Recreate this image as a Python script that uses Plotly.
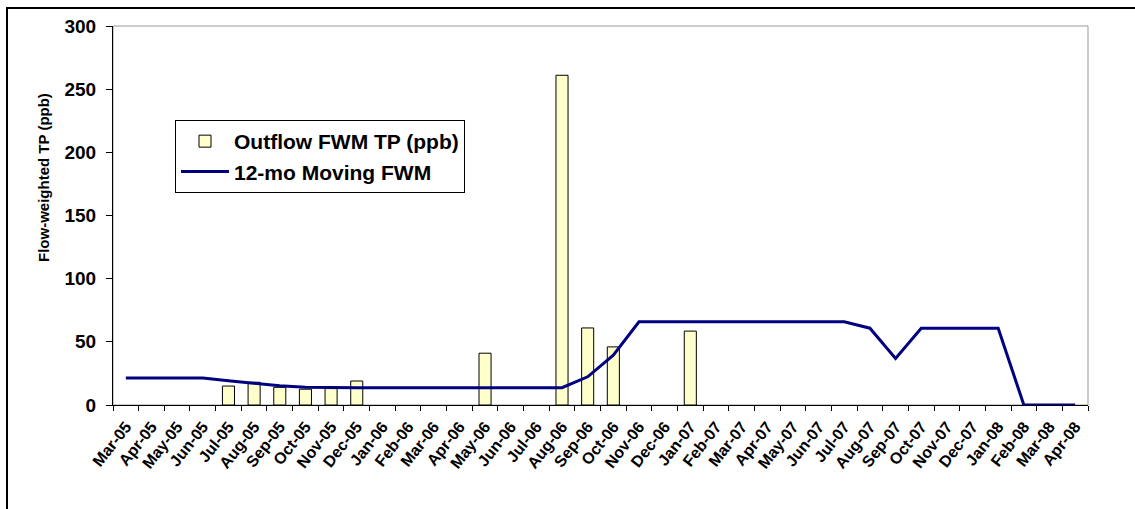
import plotly.graph_objects as go

months = ["Mar-05", "Apr-05", "May-05", "Jun-05", "Jul-05", "Aug-05", "Sep-05", "Oct-05",
          "Nov-05", "Dec-05", "Jan-06", "Feb-06", "Mar-06", "Apr-06", "May-06", "Jun-06",
          "Jul-06", "Aug-06", "Sep-06", "Oct-06", "Nov-06", "Dec-06", "Jan-07", "Feb-07",
          "Mar-07", "Apr-07", "May-07", "Jun-07", "Jul-07", "Aug-07", "Sep-07", "Oct-07",
          "Nov-07", "Dec-07", "Jan-08", "Feb-08", "Mar-08", "Apr-08"]

outflow_fwm_tp = [None, None, None, None, 15, 18, 14, 12.5,
                  13, 19, None, None, None, None, 41, None,
                  None, 261, 61, 46, None, None, 58.5, None,
                  None, None, None, None, None, None, None, None,
                  None, None, None, None, None, None]

moving_fwm = [21.3, 21.3, 21.3, 21.3, 19.2, 17.1, 15.3, 14.0,
              13.7, 13.7, 13.7, 13.7, 13.7, 13.7, 13.7, 13.7,
              13.7, 13.7, 22.3, 39.5, 65.8, 65.8, 65.8, 65.8,
              65.8, 65.8, 65.8, 65.8, 65.8, 60.8, 36.8, 60.8,
              60.8, 60.8, 60.8, 0, 0, 0]

W, H = 1135, 509
L, R, T, B = 113, 47, 26, 104
pw, ph = W - L - R, H - T - B


def px_x(p):
    return (p - L) / pw


def px_y(p):
    return (H - B - p) / ph


FONT = "Liberation Sans, Arial, sans-serif"

fig = go.Figure()
fig.add_trace(go.Bar(
    x=months, y=outflow_fwm_tp, name="Outflow FWM TP (ppb)",
    marker=dict(color="#FFFFCC", line=dict(color="black", width=1)),
    width=0.47,
))
fig.add_trace(go.Scatter(
    x=months, y=moving_fwm, name="12-mo Moving FWM", mode="lines",
    line=dict(color="#000080", width=3),
))

fig.update_layout(
    width=W, height=H,
    margin=dict(l=L, r=R, t=T, b=B),
    paper_bgcolor="white", plot_bgcolor="white",
    font=dict(family=FONT, color="black", weight="bold"),
    showlegend=True,
    legend=dict(
        x=px_x(175), y=px_y(120), xanchor="left", yanchor="top",
        bgcolor="white", bordercolor="black", borderwidth=1,
        font=dict(size=21, family=FONT, weight="bold"),
        tracegroupgap=0, itemwidth=48,
    ),
    xaxis=dict(
        type="category", range=[-0.5, 37.5],
        showline=True, linecolor="black", linewidth=1,
        ticks="outside", ticklen=5, tickcolor="black", tickson="boundaries",
        tickangle=-52, tickfont=dict(size=16, family=FONT, weight="bold"),
        showgrid=False, zeroline=False, ticklabelstandoff=5,
    ),
    yaxis=dict(
        range=[0, 300], dtick=50,
        showline=True, linecolor="black", linewidth=1,
        ticks="outside", ticklen=6, tickcolor="black",
        tickfont=dict(size=19, family=FONT, weight="bold"),
        showgrid=False, zeroline=False, ticklabelstandoff=6,
    ),
    shapes=[
        dict(type="rect", xref="paper", yref="paper", x0=0, x1=1, y0=0, y1=1,
             line=dict(color="#999999", width=1), layer="below"),
        dict(type="rect", xref="paper", yref="paper",
             x0=px_x(7), x1=px_x(1145), y0=px_y(520), y1=px_y(8),
             line=dict(color="black", width=2), layer="below"),
    ],
    annotations=[
        dict(text="Flow-weighted TP (ppb)", xref="paper", yref="paper",
             x=px_x(43), y=px_y(178), textangle=-90, showarrow=False,
             xanchor="center", yanchor="middle",
             font=dict(size=15, family=FONT, weight="bold")),
    ],
)

fig.write_html("out.html")
